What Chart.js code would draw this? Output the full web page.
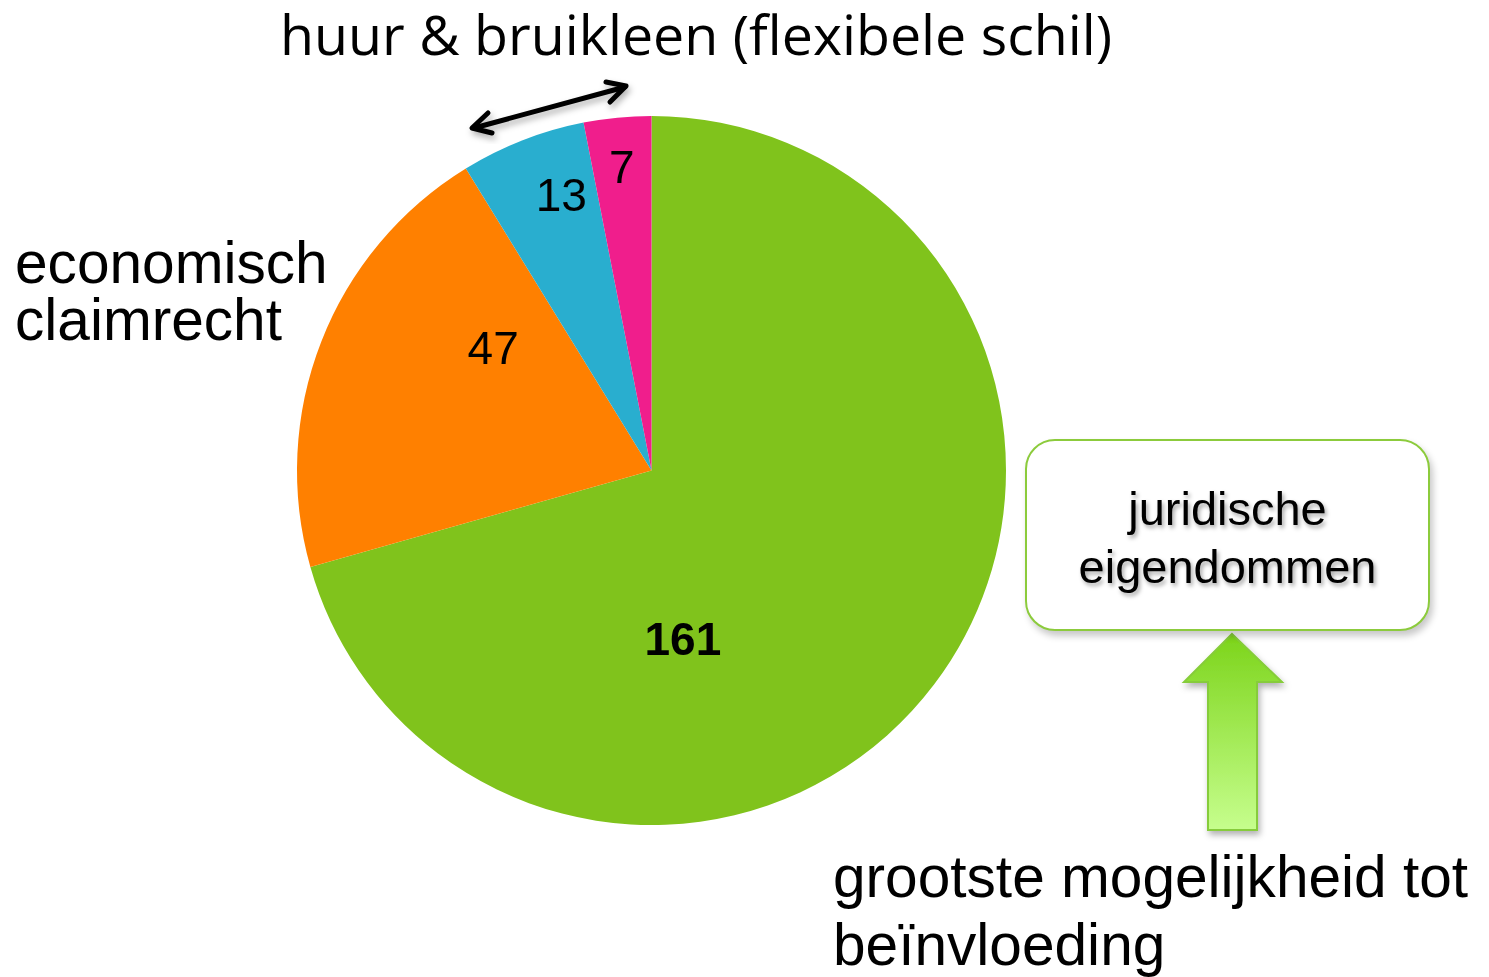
<!DOCTYPE html>
<html lang="nl">
<head>
<meta charset="utf-8">
<title>Eigendomsverhoudingen</title>
<script src="https://cdn.jsdelivr.net/npm/chart.js@4/dist/chart.umd.min.js"></script>
<style>
    html, body { margin: 0; padding: 0; background: #fff; }
    .stage { position: relative; width: 1489px; height: 977px; overflow: hidden; }
    #pieChart { position: absolute; left: 0; top: 0; }
    .note { position: absolute; color: #000; white-space: nowrap; font-family: "Liberation Sans", Arial, sans-serif; }
    .title { left: 280px; top: 6px; font-family: "Open Sans", sans-serif; font-size: 55.5px; line-height: 55px; }
    .left-label { left: 15px; top: 234px; font-size: 58.6px; line-height: 57px; }
    .bottom-label { left: 833px; top: 843px; font-size: 58.6px; line-height: 68px; }
    .box {
        position: absolute; left: 1025px; top: 439px; width: 405px; height: 192px;
        border: 2px solid #8ccb3c; border-radius: 30px; background: #fff;
        box-shadow: 3px 5px 7px rgba(0,0,0,0.22);
        text-align: center; font-family: "Liberation Sans", Arial, sans-serif;
        font-size: 47px; line-height: 58px; padding-top: 39px; box-sizing: border-box;
        text-shadow: 2px 3px 4px rgba(0,0,0,0.35);
    }
    svg.deco { position: absolute; left: 0; top: 0; pointer-events: none; }
</style>
</head>
<body>
<div class="stage">
    <canvas id="pieChart" width="1489" height="977"></canvas>

    <svg class="deco" width="1489" height="977">
        <defs>
            <linearGradient id="upGrad" x1="0" y1="0" x2="0" y2="1">
                <stop offset="0" stop-color="#7cd41a"/>
                <stop offset="1" stop-color="#c6fe8d"/>
            </linearGradient>
            <filter id="softShadow" x="-20%" y="-20%" width="140%" height="140%">
                <feDropShadow dx="2" dy="4" stdDeviation="3" flood-color="#000" flood-opacity="0.3"/>
            </filter>
        </defs>
        <!-- double arrow over the small slices -->
        <g stroke="#000" stroke-width="5" fill="none" stroke-linecap="round" stroke-linejoin="round" filter="url(#softShadow)">
            <line x1="474" y1="128" x2="625" y2="87"/>
            <polyline points="488,113 472,128 492,133"/>
            <polyline points="606,82 626,86 610,102"/>
        </g>
        <!-- big up arrow -->
        <polygon points="1232,634 1282,682 1257,682 1257,830 1208,830 1208,682 1184,682"
                 fill="url(#upGrad)" stroke="#86cc3a" stroke-width="2" filter="url(#softShadow)"/>
    </svg>

    <div class="note title">huur &amp; bruikleen (flexibele schil)</div>
    <div class="note left-label">economisch<br>claimrecht</div>
    <div class="box">juridische<br>eigendommen</div>
    <div class="note bottom-label">grootste mogelijkheid tot<br>beïnvloeding</div>
</div>

<script>
/* ============================
   Pie: eigendomsverhoudingen
   ============================ */

const categories = ['juridische eigendommen', 'economisch claimrecht', 'huur', 'bruikleen'];
const counts = [161, 47, 13, 7];
const sliceColors = ['#80c31c', '#ff8000', '#29aecf', '#f01e8c'];

// where each number sits: angle (deg, clockwise from top) and fraction of the radius
const labelPlacement = [
    { angle: 169.5, frac: 0.486, bold: true },
    { angle: 307.5, frac: 0.563, bold: false },
    { angle: 341.8, frac: 0.814, bold: false },
    { angle: 354.4, frac: 0.856, bold: false }
];

const valueLabels = {
    id: 'valueLabels',
    afterDatasetsDraw(chart) {
        const { ctx } = chart;
        const meta = chart.getDatasetMeta(0);
        ctx.save();
        ctx.fillStyle = '#000';
        ctx.textAlign = 'center';
        ctx.textBaseline = 'middle';
        meta.data.forEach((arc, i) => {
            const p = labelPlacement[i];
            const a = p.angle * Math.PI / 180;
            const r = arc.outerRadius * p.frac;
            ctx.font = (p.bold ? 'bold ' : '') + '46px "Liberation Sans", Arial, sans-serif';
            // +2: 'middle' sits a touch above the digit centre
            ctx.fillText(String(chart.data.datasets[0].data[i]), arc.x + Math.sin(a) * r, arc.y - Math.cos(a) * r + 2);
        });
        ctx.restore();
    }
};

new Chart(document.getElementById('pieChart'), {
    type: 'pie',
    data: {
        labels: categories,
        datasets: [{
            data: counts,
            backgroundColor: sliceColors,
            borderWidth: 0
        }]
    },
    options: {
        responsive: false,
        animation: false,
        layout: { padding: { left: 297, top: 116, right: 483, bottom: 152 } },
        plugins: {
            legend: { display: false },
            tooltip: { enabled: false }
        }
    },
    plugins: [valueLabels]
});
</script>
</body>
</html>
